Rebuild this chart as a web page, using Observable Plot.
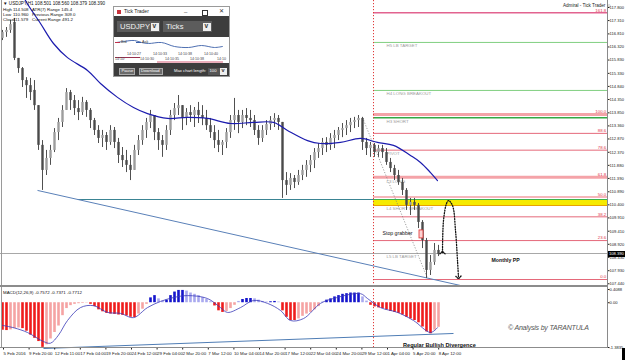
<!DOCTYPE html>
<html><head><meta charset="utf-8">
<script src="https://cdn.jsdelivr.net/npm/d3@7"></script>
<script src="https://cdn.jsdelivr.net/npm/@observablehq/plot@0.6"></script>
<style>
body{margin:0;background:#fff;}
#wrap{position:relative;width:625px;height:360px;overflow:hidden;font-family:"Liberation Sans",Arial,sans-serif;}
.abs{position:absolute;white-space:nowrap;}
#wrap svg{position:absolute;overflow:visible;}
</style></head><body><div id="wrap"></div>
<script>
// ---------------- DATA ----------------
const candleOpen = [116.64,116.86,116.94,117.24,115.89,115.51,115.06,114.87,114.69,114.12,
112.63,111.69,112.14,112.44,113.11,113.49,113.94,114.61,114.31,114.01,
113.86,114.24,113.94,113.56,113.19,112.89,113.00,112.74,113.19,112.74,
112.25,112.06,111.88,111.69,112.44,112.81,113.19,113.49,113.75,113.11,
112.81,112.63,113.19,113.75,114.01,114.12,113.64,113.86,113.75,113.94,
113.75,113.64,113.37,113.11,112.81,112.63,112.74,113.11,113.56,113.75,
113.49,113.75,113.64,113.56,113.19,112.89,113.19,113.41,113.56,113.64,
113.49,111.31,111.13,111.39,111.24,111.50,111.69,111.88,112.06,112.36,
112.51,112.74,112.63,112.89,113.00,113.19,113.26,113.37,113.49,113.56,
113.64,112.74,112.51,112.63,112.36,112.51,112.36,111.99,111.76,111.50,
111.24,110.94,110.38,110.49,110.38,109.74,109.06,107.94,108.24,108.69];
const candleHigh = [116.94,117.05,117.31,117.39,115.89,115.55,115.17,115.14,115.06,114.12,
112.81,112.44,112.63,113.26,113.64,114.12,114.76,114.69,114.50,114.31,
114.43,114.31,114.01,113.64,113.37,113.19,113.11,113.37,113.30,112.89,
112.55,112.44,112.25,112.63,113.00,113.37,113.64,113.94,113.75,113.26,
113.00,113.37,113.94,114.20,114.50,114.12,114.01,114.12,114.05,114.24,
114.12,113.94,113.64,113.37,113.19,112.81,113.26,113.75,114.39,113.94,
113.94,114.01,113.94,113.75,113.37,113.37,113.56,113.71,113.82,113.75,
113.49,111.61,111.57,111.50,111.69,111.88,112.06,112.25,112.51,112.70,
112.89,112.92,113.07,113.19,113.30,113.45,113.56,113.64,113.68,113.75,
113.68,112.89,112.74,112.70,112.63,112.63,112.51,112.14,111.88,111.69,
111.39,111.01,110.64,110.64,110.45,109.81,109.14,108.50,108.95,108.88];
const candleLow = [116.56,116.68,116.83,115.81,115.33,114.80,114.39,114.31,113.94,112.44,
110.94,111.50,111.88,112.36,112.81,113.30,113.94,113.94,113.75,113.56,
113.75,113.68,113.26,113.00,112.70,112.55,112.44,112.63,112.51,111.95,
111.80,111.61,111.31,111.69,112.25,112.63,112.89,113.26,112.81,112.44,
112.18,112.44,113.00,113.56,113.75,113.19,113.37,113.49,113.30,113.45,
113.37,113.19,112.89,112.51,112.36,112.25,112.51,112.89,113.19,113.07,
113.26,113.37,113.30,113.00,112.63,112.74,113.00,113.19,113.30,113.19,
110.64,110.75,110.94,111.01,111.13,111.31,111.43,111.61,111.76,112.14,
112.25,112.36,112.44,112.51,112.81,112.92,113.00,113.11,113.26,113.30,
112.44,112.25,112.18,112.18,112.18,112.14,111.88,111.61,111.31,111.13,
110.75,110.19,110.00,110.19,109.51,108.76,107.64,107.75,108.13,108.46];
const candleClose = [116.86,116.94,117.16,115.89,115.51,115.06,114.87,114.61,114.12,112.63,
111.69,112.14,112.44,113.11,113.49,113.94,114.61,114.31,114.01,113.86,
114.24,113.94,113.56,113.19,112.89,113.00,112.74,113.19,112.74,112.25,
112.06,111.88,111.69,112.44,112.81,113.19,113.49,113.75,113.11,112.81,
112.63,113.19,113.75,114.01,114.12,113.64,113.86,113.75,113.94,113.75,
113.64,113.37,113.11,112.81,112.63,112.74,113.11,113.56,113.75,113.49,
113.75,113.64,113.56,113.19,112.89,113.19,113.41,113.56,113.64,113.49,
111.31,111.13,111.39,111.24,111.50,111.69,111.88,112.06,112.36,112.51,
112.74,112.63,112.89,113.00,113.19,113.26,113.37,113.49,113.56,113.64,
112.74,112.51,112.63,112.36,112.51,112.36,111.99,111.76,111.50,111.24,
110.94,110.38,110.49,110.38,109.74,109.06,107.94,108.24,108.69,108.54];

// moving average (bar index, price)
const maIdx = [5,5.75,9.5,12.75,16.25,21.25,24.5,28.75,32.75,36.25,41.25,46.25,51.25,57,62.75,67.75,71.25,76.25,79.5,84.5,89.5,93.75,97.75,102,104.5,107,108.75];
const maVal = [118.36,118.06,117.20,116.45,115.92,115.44,114.95,114.43,114.05,113.82,113.64,113.68,113.64,113.45,113.49,113.49,113.19,112.81,112.70,112.74,112.89,112.74,112.63,112.25,111.99,111.61,111.31];

// MACD histogram and signal
const macdHist = [-0.85,-0.86,-0.84,-0.80,-0.78,-0.80,-0.88,-1.00,-1.10,-1.20,
-1.38,-1.30,-1.12,-0.92,-0.72,-0.40,-0.18,-0.09,-0.05,-0.03,
-0.02,-0.01,-0.05,-0.12,-0.22,-0.28,-0.33,-0.35,-0.36,-0.38,
-0.39,-0.41,-0.45,-0.46,-0.35,-0.20,-0.05,0.15,0.22,0.12,
0.05,0.08,0.22,0.33,0.38,0.38,0.36,0.30,0.26,0.22,
0.16,0.10,0.03,-0.10,-0.25,-0.30,-0.27,-0.18,-0.08,0.04,
0.10,0.13,0.13,0.12,0.08,0.04,0.02,0.03,0.04,0.02,
-0.25,-0.45,-0.55,-0.55,-0.50,-0.42,-0.35,-0.30,-0.22,-0.12,
0.02,0.08,0.12,0.18,0.22,0.26,0.28,0.30,0.30,0.30,
0.18,0.05,-0.08,-0.13,-0.16,-0.18,-0.22,-0.27,-0.30,-0.33,
-0.38,-0.45,-0.50,-0.55,-0.62,-0.75,-0.90,-0.96,-0.85,-0.76];
const sigIdx = [0,3,6.25,10.25,12,14,16.25,19.5,22.75,26.25,29.5,32.75,36.25,39.5,42.75,46.25,51.25,54.5,56.25,59.5,62.75,66.25,69.5,72,75.25,79.5,82.75,89.5,91.25,94.5,98.75,102.75,107,108.75];
const sigVal = [-0.70,-0.78,-0.92,-1.20,-1.25,-1.00,-0.55,-0.15,-0.09,-0.30,-0.33,-0.46,-0.15,0.04,0.16,0.22,0.13,-0.15,-0.30,-0.15,0.07,-0.02,-0.24,-0.55,-0.49,-0.02,0.13,0.28,0.13,-0.15,-0.30,-0.55,-0.92,-0.77];

// axis ticks / labels
const priceTicks = [117.800,117.310,116.810,116.320,115.830,115.330,114.840,114.350,113.850,113.360,112.870,112.370,111.880,111.390,110.890,110.400,109.910,109.410,108.920,108.430,107.930,107.440];
const macdTicks = [0.4088, 0, -1.3835];
const macdTickLabels = ["0.4088", "0.00", "-1.3835"];
const timeLabels = ["5 Feb 2016","9 Feb 20:00","12 Feb 11:00","17 Feb 04:00","19 Feb 20:00","24 Feb 12:00","29 Feb 04:00","2 Mar 20:00","7 Mar 12:00","10 Mar 04:00","14 Mar 20:00","17 Mar 12:00","22 Mar 04:00","24 Mar 20:00","29 Mar 12:00","1 Apr 04:00","5 Apr 20:00","8 Apr 12:00"];
const timeTickIdx = [0,6.4,12.8,19.2,25.6,32,38.4,44.8,51.2,57.6,64,70.4,76.8,83.2,89.6,96,102.4,108.8];

// Fibonacci levels
const fibLabels = ["161.8","100.0","88.6","78.6","61.8","50.0","38.2","23.6","0.0"];
const fibPrices = [117.60,113.79,113.08,112.45,111.43,110.69,109.95,109.06,107.60];
const fibStyle  = ["top","thick","thin","thin","thick","mid","thin","thin","thin"];
// Camarilla-type levels
const levelNames  = ["H5 LB TARGET","H4 LONG BREAKOUT","H3 SHORT","PIVOT","L3 LONG","L4 SHORT BREAKOUT","L5 LB TARGET"];
const levelLabelPrices = [116.37,114.57,113.52,112.33,111.28,110.26,108.45];
const greenPrices = [116.49,114.69,113.67];
const greenWidths = [1,1,1.5];
const bandLow = 110.375, bandHigh = 110.60;
const levelStartIdx = 92.75;    // session marker (red dotted line)
const bidPrice = 108.575;
const trendDiag = {x1: 8.75, y1: 110.94, x2: 114.5, y2: 107.375};
const trendFlat = {x1: 18.75, y1: 110.60, x2: 92.75, y2: 110.60};
const dottedDiag = {x1: 90, y1: 113.675, x2: 106.25, y2: 107.64};
const arcIdx = [110,110.25,111,111.5,112.5,113.25,113.75,114];
const arcVal = [108.61,109.81,110.45,110.56,110.375,109.44,108.31,107.675];
const stopGrabber = {x1: 104.25, x2: 105.25, y1: 109.14, y2: 109.44};
const notes = [{t: "Stop grabber", x: 95, y: 109.33, w: "normal"}, {t: "Monthly PP", x: 122.25, y: 108.31, w: "bold"}];
const macdTrend = {x1: 10.25, y1: -1.415, x2: 112.75, y2: -0.95};
// Tick Trader mini chart
const tickX = [2,9,20,27,34,47,60,74,87,100,108];
const tickAsk = [108.398,108.399,108.400,108.398,108.397,108.398,108.394,108.393,108.395,108.393,108.394];
const tickBidSegs = [{x1: 1, x2: 26, p: 108.383, c: "#8c1a3a"}, {x1: 43, x2: 109, p: 108.3785, c: "#d04a66"}];

// ---------------- DRAW ----------------
const wrap = document.getElementById("wrap");
const FONT = "Liberation Sans, Arial, sans-serif";
const xDomain = [-0.5, 151.25];
const candles = candleOpen.map((o, i) => ({i, o, h: candleHigh[i], l: candleLow[i], c: candleClose[i]}));
const fib = fibLabels.map((t, k) => ({t, p: fibPrices[k], s: fibStyle[k]}));
const fibColor = {thin: "#e5697a", thick: "#f4a3a8", mid: "#f6b6ba", top: "#e2638f"};
const fibWidth = {thin: 1, thick: 3, mid: 2, top: 1.5};
const levels = levelNames.map((t, k) => ({t, p: levelLabelPrices[k]}));
const greens = greenPrices.map((p, k) => ({p, w: greenWidths[k]}));
const ma = maIdx.map((x, k) => ({x, y: maVal[k]}));
const arc = arcIdx.map((x, k) => ({x, y: arcVal[k]}));

const fibMarks = Object.keys(fibColor).map(s =>
  Plot.ruleY(fib.filter(d => d.s === s), {y: "p", x1: levelStartIdx, x2: xDomain[1], stroke: fibColor[s], strokeWidth: fibWidth[s]}));
const greenMarks = greens.map(g => Plot.ruleY([g.p], {x1: levelStartIdx, x2: xDomain[1], stroke: g.w > 1 ? "#35a845" : "#80cf80", strokeWidth: g.w}));

const pricePlot = Plot.plot({
  width: 625, height: 286, marginLeft: 0, marginRight: 18, marginTop: 0, marginBottom: 0,
  style: {fontSize: "4.2px", fontFamily: FONT, background: "transparent", color: "#222"},
  x: {domain: xDomain, axis: null},
  y: {domain: [107.3375, 118.0625], axis: null},
  marks: [
    Plot.rect([{x1: levelStartIdx, x2: xDomain[1], y1: bandLow, y2: bandHigh}], {x1: "x1", x2: "x2", y1: "y1", y2: "y2", fill: "#f6ea00"}),
    Plot.ruleY([bandHigh], {x1: levelStartIdx, x2: xDomain[1], stroke: "#3cb34a", strokeWidth: 1}),
    Plot.ruleY([bandLow], {x1: levelStartIdx, x2: xDomain[1], stroke: "#e8a200", strokeWidth: 1.2}),
    ...fibMarks,
    ...greenMarks,
    Plot.ruleY([bidPrice], {stroke: "#a8a8a8", strokeWidth: 1}),
    Plot.text(levels, {x: levelStartIdx + 3.25, y: "p", text: "t", textAnchor: "start", fill: "#9c9c9c", fontSize: 4.4}),
    Plot.text(fib, {x: xDomain[1] - 0.3, y: "p", text: "t", textAnchor: "end", dy: -2.6, fill: "#e0384a", fontSize: 4.4}),
    Plot.link([trendFlat], {x1: "x1", y1: "y1", x2: "x2", y2: "y2", stroke: "#3a8493", strokeWidth: 1.1}),
    Plot.link([trendDiag], {x1: "x1", y1: "y1", x2: "x2", y2: "y2", stroke: "#5a80b8", strokeWidth: 1}),
    Plot.ruleX([levelStartIdx], {stroke: "#e03a3a", strokeWidth: 1, strokeDasharray: "1.2,1.8"}),
    Plot.link([dottedDiag], {x1: "x1", y1: "y1", x2: "x2", y2: "y2", stroke: "#777", strokeWidth: 0.7, strokeDasharray: "1.2,1.6"}),
    Plot.ruleX(candles, {x: "i", y1: "l", y2: "h", stroke: "#3c3c3c", strokeWidth: 0.9}),
    Plot.ruleX(candles.filter(d => d.c >= d.o), {x: "i", y1: "o", y2: "c", stroke: "#9d9d9d", strokeWidth: 2.4}),
    Plot.ruleX(candles.filter(d => d.c < d.o), {x: "i", y1: "o", y2: "c", stroke: "#4a4a4a", strokeWidth: 2.4}),
    Plot.line(ma, {x: "x", y: "y", stroke: "#1c1cae", strokeWidth: 1.2, curve: "catmull-rom", clip: true}),
    Plot.rect([stopGrabber], {x1: "x1", x2: "x2", y1: "y1", y2: "y2", fill: "#fbd3d3", stroke: "#e03030", strokeWidth: 0.8}),
    Plot.text(notes.filter(d => d.w === "normal"), {x: "x", y: "y", text: "t", textAnchor: "start", fill: "#111", fontSize: 5.2}),
    Plot.text(notes.filter(d => d.w === "bold"), {x: "x", y: "y", text: "t", textAnchor: "start", fill: "#111", fontSize: 5.2, fontWeight: "bold"}),
    Plot.line(arc, {x: "x", y: "y", curve: "catmull-rom", stroke: "#111", strokeWidth: 1.3, strokeDasharray: "1,1.6", markerStart: "arrow", markerEnd: "arrow"}),
    Plot.axisY(priceTicks, {anchor: "right", tickSize: 1.5, tickPadding: 0.5, tickFormat: d => d.toFixed(3), fontSize: 4.1})
  ]
});
pricePlot.style.left = "0px"; pricePlot.style.top = "0px";
wrap.appendChild(pricePlot);

const hist = macdHist.map((v, i) => ({i, v, dark: i === 0 ? true : Math.abs(v) >= Math.abs(macdHist[i - 1])}));
const histColor = (neg, dark) => neg ? (dark ? "#ef1c1c" : "#f5a3a3") : (dark ? "#1515cc" : "#a9a9ef");
const sig = sigIdx.map((x, k) => ({x, y: sigVal[k]}));
const groups = [[true, true], [true, false], [false, true], [false, false]];
const histMarks = groups.map(([neg, dark]) => {
  const sub = hist.filter(d => (d.v < 0) === neg && d.dark === dark);
  return Plot.ruleX(sub, {x: "i", y1: 0, y2: "v", stroke: histColor(neg, dark), strokeWidth: 2.6});
});

const macdPlot = Plot.plot({
  width: 625, height: 73, marginLeft: 0, marginRight: 18, marginTop: 2, marginBottom: 13,
  style: {fontSize: "4.2px", fontFamily: FONT, background: "transparent", color: "#222"},
  x: {domain: xDomain, axis: null},
  y: {domain: [-1.3835, 0.4088], axis: null},
  marks: [
    ...histMarks,
    Plot.line(sig, {x: "x", y: "y", stroke: "#3a3ab8", strokeWidth: 0.8, curve: "catmull-rom"}),
    Plot.link([macdTrend], {x1: "x1", y1: "y1", x2: "x2", y2: "y2", stroke: "#4f7db5", strokeWidth: 1}),
    Plot.ruleX([levelStartIdx], {stroke: "#e03a3a", strokeWidth: 1, strokeDasharray: "1.2,1.8"}),
    Plot.axisY(macdTicks, {anchor: "right", tickSize: 1.5, tickPadding: 0.5, tickFormat: d => macdTickLabels[macdTicks.indexOf(d)], fontSize: 4.1}),
    Plot.axisX(timeTickIdx, {anchor: "bottom", tickSize: 2.5, tickPadding: 1.5, tickFormat: d => timeLabels[timeTickIdx.indexOf(d)], textAnchor: "start", dx: 1, fontSize: 4.4})
  ]
});
macdPlot.style.left = "0px"; macdPlot.style.top = "287px";
wrap.appendChild(macdPlot);

// frame lines and overlays
function box(l, t, w, h, bg, extra) {
  const d = document.createElement("div");
  d.className = "abs";
  d.style.cssText += `left:${l}px;top:${t}px;width:${w}px;height:${h}px;background:${bg};` + (extra || "");
  wrap.appendChild(d); return d;
}
function label(txt, l, t, size, color, extra) {
  const d = document.createElement("div");
  d.className = "abs";
  d.textContent = txt;
  d.style.cssText += `left:${l}px;top:${t}px;font-size:${size}px;line-height:1;color:${color};` + (extra || "");
  wrap.appendChild(d); return d;
}
box(1, 0, 1, 348, "#9a9a9a");
box(607, 0, 1, 348, "#8a8a8a");
box(0, 285, 607, 2, "#8c8c8c");
box(0, 347, 607, 1, "#8c8c8c");
box(622, 348, 3, 12, "#000");
// bid label
box(608, 251, 17, 6, "#000");
label("108.390", 609, 252, 4.1, "#fff");

// header
label("▼ USDJPY,H1  108.501 108.560 108.379 108.390", 3, 1.5, 4.6, "#111");
label("High", 3, 8, 4.4, "#111"); label("114.508", 13, 8, 4.4, "#111"); label("ATR(7) Range 145.4", 32, 8, 4.4, "#111");
label("Low", 3, 13, 4.4, "#111"); label("110.960", 13, 13, 4.4, "#111"); label("Previous Range 309.0", 32, 13, 4.4, "#111");
label("Close", 3, 18, 4.4, "#111"); label("111.579", 13, 18, 4.4, "#111"); label("Current Range 491.2", 32, 18, 4.4, "#111");
label("Admiral - Tick Trader ☺", 563, 4, 4.6, "#222");

// MACD overlays
label("MACD(12,26,9) -0.7572 -0.7371 -0.7712", 3, 290.5, 4.4, "#111");
label("© Analysis by TARANTULA", 508, 323.5, 7, "#555", "font-style:italic;letter-spacing:-0.2px;");
label("Regular Bullish Divergence", 403, 342.5, 5.6, "#111", "font-weight:bold;");

// Tick Trader panel
box(113, 6, 117, 71, "#3d3d3d", "border:1px solid #9a9a9a;box-sizing:border-box;");
box(114, 7, 115, 9, "#fff");
box(117, 9.5, 4, 4, "#c8323c");
label("Tick Trader", 124, 9.3, 5, "#222");
label("–", 184, 8.5, 6, "#333");
box(202, 9.5, 4, 4, "transparent", "border:0.7px solid #333;");
label("✕", 219, 8.5, 5.5, "#333");
function dropdown(l, t, w, txt) {
  box(l, t, w, 11, "#5c5c5c");
  label(txt, l + 3, t + 1.8, 7.6, "#f2f2f2");
  box(l + w - 9.5, t + 1.5, 8, 8, "#eee");
  label("v", l + w - 7.6, t + 1.5, 6.5, "#333", "font-weight:bold;");
}
dropdown(117, 21, 43, "USDJPY");
dropdown(163, 21, 49, "Ticks");
box(114, 37, 115, 26, "#fff");
const miniPlot = Plot.plot({
  width: 115, height: 26, margin: 0,
  style: {background: "transparent"},
  x: {domain: [0, 115], axis: null},
  y: {domain: [108.377, 108.403], axis: null},
  marks: [
    Plot.line(tickX.map((x, k) => ({x, y: tickAsk[k]})), {x: "x", y: "y", stroke: "#3a5fa8", strokeWidth: 0.9, curve: "catmull-rom"}),
    ...tickBidSegs.map(s => Plot.ruleY([s.p], {x1: s.x1, x2: s.x2, stroke: s.c, strokeWidth: 0.9}))
  ]
});
miniPlot.style.left = "114px"; miniPlot.style.top = "37px";
wrap.appendChild(miniPlot);
box(115, 42, 5, 0.8, "#c0304a"); label("Bid", 121, 40.5, 3.8, "#444");
box(136, 42, 5, 0.8, "#3a5fa8"); label("Ask", 142, 40.5, 3.8, "#444");
[["14:10:27",127],["14:10:33",153],["14:10:38",178],["14:10:40",204]].forEach(([t,x]) => label(t, x, 52.5, 3.6, "#444"));
[["14:10:",115],["14:10:30",140],["14:10:35",165],["14:10:38",190],["14:10",217]].forEach(([t,x]) => label(t, x, 58, 3.6, "#444"));
box(119, 67.5, 16, 7, "#6a6a6a", "border:0.5px solid #aaa;box-sizing:border-box;");
label("Pause", 121.5, 69, 4.2, "#fff");
box(139, 67.5, 24, 7, "#6a6a6a", "border:0.5px solid #aaa;box-sizing:border-box;");
label("Download", 141, 69, 4.2, "#fff");
label("Max chart length:", 174, 69, 4.2, "#fff");
box(208, 67.5, 12, 7, "#555");
label("100", 209.5, 69, 4.2, "#fff");
box(220, 67.5, 7, 7, "#eee");
label("v", 221.5, 67.5, 5.5, "#333", "font-weight:bold;");
</script></body></html>
